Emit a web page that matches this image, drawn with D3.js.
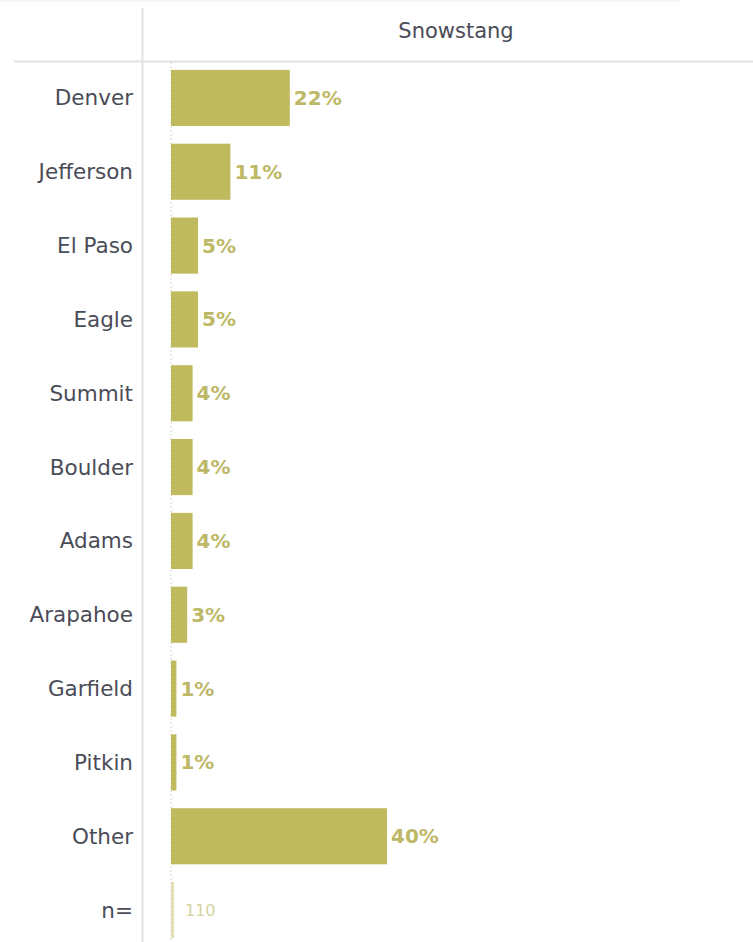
<!DOCTYPE html>
<html>
<head>
<meta charset="utf-8">
<script src="https://cdn.jsdelivr.net/npm/d3@7"></script>
<style>
  html, body { margin: 0; padding: 0; background: #fff; }
  svg { display: block; }
  text { font-family: "DejaVu Sans", Verdana, sans-serif; }
</style>
</head>
<body>
<svg id="chart" width="753" height="942"></svg>
<script>
// Share of Snowstang respondents by county
const categories = ["Denver", "Jefferson", "El Paso", "Eagle", "Summit", "Boulder",
                    "Adams", "Arapahoe", "Garfield", "Pitkin", "Other"];
const shares = [22, 11, 5, 5, 4, 4, 4, 3, 1, 1, 40];
const columnTitle = "Snowstang";
const sampleLabel = "n=";
const sampleSize = [110];

const W = 753, H = 942;
const svg = d3.select("#chart");

const rows = categories.concat([sampleLabel]);
const y = d3.scaleBand().domain(rows).range([61, 947]).paddingInner(0.24).paddingOuter(0.12);
const x = d3.scaleLinear().domain([0, 40]).range([171, 387]);

const barColor = "#bfba5e";
const labelColor = "#bdb865";
const paleColor = "#e3e0b4";
const textColor = "#4a4c58";

// frame lines
svg.append("line").attr("x1", 0).attr("x2", 680).attr("y1", 1).attr("y2", 1)
  .attr("stroke", "#ececec").attr("stroke-width", 1);
svg.append("line").attr("x1", 14).attr("x2", W).attr("y1", 61.5).attr("y2", 61.5)
  .attr("stroke", "#e2e2e2").attr("stroke-width", 2);
svg.append("line").attr("x1", 142.5).attr("x2", 142.5).attr("y1", 8).attr("y2", H)
  .attr("stroke", "#e4e4e4").attr("stroke-width", 2);

// zero reference line
svg.append("line").attr("x1", x(0)).attr("x2", x(0)).attr("y1", 62).attr("y2", H)
  .attr("stroke", "#d6d6d6").attr("stroke-width", 1).attr("stroke-dasharray", "2,2");

// column header
svg.append("text").attr("x", 456).attr("y", 31).attr("text-anchor", "middle")
  .attr("dominant-baseline", "central").attr("font-size", 21).attr("fill", textColor)
  .text(columnTitle);

// row labels
svg.append("g").selectAll("text").data(rows).join("text")
  .attr("x", 133).attr("y", d => y(d) + y.bandwidth() / 2)
  .attr("text-anchor", "end").attr("dominant-baseline", "central")
  .attr("font-size", 21.5).attr("fill", textColor)
  .text(d => d);

// bars
const data = categories.map((c, i) => ({ c, v: shares[i] }));
svg.append("g").selectAll("rect").data(data).join("rect")
  .attr("x", x(0)).attr("y", d => y(d.c))
  .attr("width", d => x(d.v) - x(0)).attr("height", y.bandwidth())
  .attr("fill", barColor);

// value labels
svg.append("g").selectAll("text").data(data).join("text")
  .attr("x", d => x(d.v) + 4).attr("y", d => y(d.c) + y.bandwidth() / 2)
  .attr("dominant-baseline", "central").attr("font-size", 20).attr("font-weight", "bold")
  .attr("fill", labelColor)
  .text(d => d.v + "%");

// sample size row
svg.append("g").selectAll("rect").data(sampleSize).join("rect")
  .attr("x", x(0)).attr("y", y(sampleLabel)).attr("width", 3).attr("height", y.bandwidth())
  .attr("fill", paleColor);
svg.append("g").selectAll("text").data(sampleSize).join("text")
  .attr("x", x(0) + 14).attr("y", y(sampleLabel) + y.bandwidth() / 2)
  .attr("dominant-baseline", "central").attr("font-size", 16).attr("fill", "#d6d3a0")
  .text(d => d);
</script>
</body>
</html>
